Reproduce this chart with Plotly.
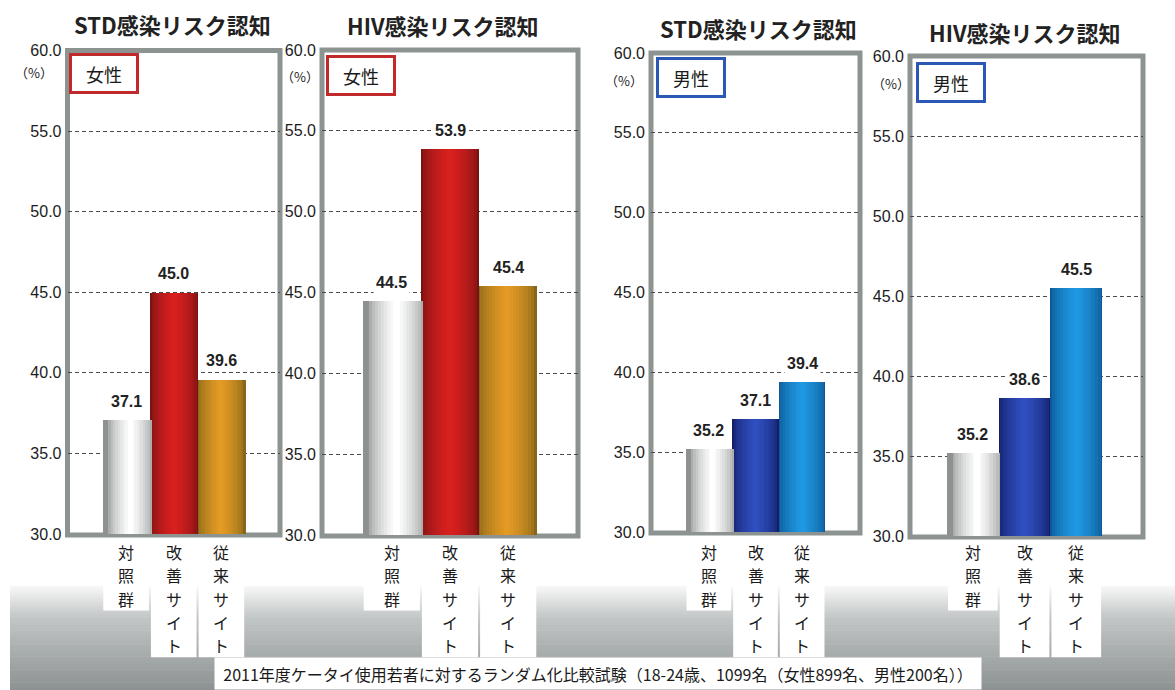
import plotly.graph_objects as go

# --- data -----------------------------------------------------------------
categories = ["対照群", "改善サイト", "従来サイト"]
panel_titles = ["STD感染リスク認知", "HIV感染リスク認知", "STD感染リスク認知", "HIV感染リスク認知"]
panel_groups = ["女性", "女性", "男性", "男性"]
female_std = [37.1, 45.0, 39.6]
female_hiv = [44.5, 53.9, 45.4]
male_std = [35.2, 37.1, 39.4]
male_hiv = [35.2, 38.6, 45.5]
y_ticks = [30, 35, 40, 45, 50, 55, 60]
footnote = "2011年度ケータイ使用若者に対するランダム化比較試験（18-24歳、1099名（女性899名、男性200名））"

panel_values = [female_std, female_hiv, male_std, male_hiv]

# --- layout helpers ---------------------------------------------------------
W, H = 1175, 690


def fx(px):
    return px / W


def fy(py):
    return 1 - py / H


# plot-area geometry (pixels): left, right, top(60), bottom(30), x-range
panels = [
    dict(l=67.5, r=280, t=50.5, b=534, xr=[-1.23, 3.23]),
    dict(l=322, r=578, t=50, b=535, xr=[-1.2, 3.2]),
    dict(l=651, r=860, t=53, b=532, xr=[-1.24, 3.24]),
    dict(l=910, r=1143, t=56, b=536, xr=[-1.215, 3.29]),
]
title_pos = [(172, 24), (443, 25), (758, 28), (1025, 32)]
pct_pos = [(34, 73), (300, 77), (624, 81), (891, 83)]
group_box = [(69, 53), (326, 55), (656, 57), (916, 62)]
group_colors = {"女性": "#c02a2a", "男性": "#2a58b4"}

# vertical category label layout (pixels)
LABEL_FIRST = 552      # centre of the first character
LABEL_PITCH = 23.3     # distance between stacked characters
LABEL_SIZE = 16

# shading ramps per bar: (edge colour, highlight colour, highlight centre offset)
female_ramps = [("#8e9191", "#ffffff", 0.08), ("#7a1212", "#d8201f", 0.0), ("#86661a", "#e39a24", -0.02)]
male_ramps = [("#8e9191", "#ffffff", 0.08), ("#131e66", "#2f4fc0", 0.0), ("#0d5896", "#1e98e0", 0.0)]
panel_ramps = [female_ramps, female_ramps, male_ramps, male_ramps]


def hex2rgb(h):
    h = h.lstrip("#")
    return tuple(int(h[i:i + 2], 16) for i in (0, 2, 4))


def mix(a, b, t):
    ra, rb = hex2rgb(a), hex2rgb(b)
    return "rgb(%d,%d,%d)" % tuple(round(ra[i] + (rb[i] - ra[i]) * t) for i in range(3))


fig = go.Figure()
annotations = []
shapes = []
label_boxes = []
N_LAYERS = 10

for i, (vals, geo) in enumerate(zip(panel_values, panels)):
    xa = "x" if i == 0 else f"x{i + 1}"
    ya = "y" if i == 0 else f"y{i + 1}"
    ramps = panel_ramps[i]
    # cylinder-style shading: nested bars from the same values
    for k in range(N_LAYERS):
        f = k / (N_LAYERS - 1)
        if k == 0:
            half = [0.5] * 3
            offs = [-0.5] * 3
        else:
            half = [0.47 * (1 - (k - 1) / (N_LAYERS - 1)) for _ in ramps]
            offs = [r[2] - h for r, h in zip(ramps, half)]
        t = (f ** 0.6)
        colors = [mix(r[0], r[1], t) for r in ramps]
        fig.add_trace(go.Bar(
            x=categories, y=vals, base=0, xaxis=xa, yaxis=ya,
            width=[2 * h for h in half], offset=offs,
            marker=dict(color=colors, line=dict(width=0)),
            showlegend=False, hoverinfo="skip",
        ))

    fig.layout[f"xaxis{'' if i == 0 else i + 1}"] = dict(
        domain=[fx(geo["l"]), fx(geo["r"])], range=geo["xr"], anchor=ya,
        showticklabels=False, showgrid=False, zeroline=False, showline=False,
        type="category", fixedrange=True, automargin=False,
    )
    fig.layout[f"yaxis{'' if i == 0 else i + 1}"] = dict(
        domain=[fy(geo["b"]), fy(geo["t"])], range=[30, 60], anchor=xa,
        tickvals=y_ticks, ticktext=[f"{v:.1f}" for v in y_ticks],
        tickfont=dict(family="Liberation Sans, Arial", size=16, color="#1c1c1c"),
        showgrid=True, gridcolor="#4a4a4a", gridwidth=1, griddash="4px,3px",
        zeroline=False, showline=False, ticks="", ticklabelstandoff=5,
        fixedrange=True, automargin=False,
    )
    # grey frame
    shapes.append(dict(type="rect", xref="paper", yref="paper",
                       x0=fx(geo["l"]), x1=fx(geo["r"]), y0=fy(geo["b"] + 1), y1=fy(geo["t"]),
                       line=dict(color="#8c9390", width=5), layer="between"))

    # value labels
    for c, v in zip(categories, vals):
        annotations.append(dict(
            x=c, y=v, xref=xa, yref=ya, text=f"{v:.1f}", showarrow=False,
            yanchor="bottom", yshift=7, bgcolor="white", borderpad=2,
            font=dict(family="Liberation Sans, Arial", size=16, color="#222", weight="bold"),
        ))

    # vertical category labels: one character per line on a white card
    bar_px = (geo["r"] - geo["l"]) / (geo["xr"][1] - geo["xr"][0])
    for j, c in enumerate(categories):
        cx = geo["l"] + (j - geo["xr"][0]) * bar_px
        last = LABEL_FIRST + LABEL_PITCH * (len(c) - 1)
        label_boxes.append(dict(type="rect", xref="paper", yref="paper",
                                x0=fx(cx - bar_px / 2 + 1), x1=fx(cx + bar_px / 2 - 1),
                                y0=fy(last + 12), y1=fy(geo["b"] + 4),
                                line=dict(width=0), fillcolor="white", layer="above"))
        for k, ch in enumerate(c):
            annotations.append(dict(
                x=c, y=fy(LABEL_FIRST + LABEL_PITCH * k), xref=xa, yref="paper",
                yanchor="middle", text=ch, showarrow=False,
                font=dict(family="Noto Sans CJK JP", size=LABEL_SIZE, color="#1a1a1a"),
            ))

    # panel title
    tx, ty = title_pos[i]
    annotations.append(dict(
        x=fx(tx), y=fy(ty), xref="paper", yref="paper", xanchor="center", yanchor="middle",
        text=panel_titles[i], showarrow=False,
        font=dict(family="Noto Sans CJK JP", size=22, color="#222", weight="bold"),
    ))
    # unit label
    px_, py_ = pct_pos[i]
    annotations.append(dict(
        x=fx(px_), y=fy(py_), xref="paper", yref="paper", xanchor="center", yanchor="middle",
        text="（%）", showarrow=False,
        font=dict(family="Noto Sans CJK JP", size=13, color="#222"),
    ))
    # group tag
    gx, gy = group_box[i]
    annotations.append(dict(
        x=fx(gx), y=fy(gy), xref="paper", yref="paper", xanchor="left", yanchor="top",
        text=panel_groups[i], showarrow=False, bgcolor="white",
        bordercolor=group_colors[panel_groups[i]], borderwidth=3, borderpad=1,
        width=62, height=33,
        font=dict(family="Noto Sans CJK JP", size=18, color="#1a1a1a"),
    ))

# grey gradient band along the bottom
n_band = 40
top_px, bot_px = 586, 690
for k in range(n_band):
    y0 = top_px + (bot_px - top_px) * k / n_band
    y1 = top_px + (bot_px - top_px) * (k + 1) / n_band
    t = k / (n_band - 1)
    if t < 0.3:
        col = mix("#f6f6f6", "#c2c6c6", t / 0.3)
    else:
        col = mix("#c2c6c6", "#8d9292", (t - 0.3) / 0.7)
    shapes.append(dict(type="rect", xref="paper", yref="paper", x0=fx(10), x1=1,
                       y0=fy(y1 + 0.5), y1=fy(y0), line=dict(width=0), fillcolor=col, layer="below"))
shapes.extend(label_boxes)

annotations.append(dict(
    x=fx(598), y=fy(673), xref="paper", yref="paper", xanchor="center", yanchor="middle",
    text=footnote, showarrow=False,
    bgcolor="white", width=766, height=31, borderpad=0,
    font=dict(family="Noto Sans CJK JP", size=16, color="#1a1a1a"),
))

fig.update_layout(
    template="none",
    width=W, height=H, margin=dict(l=0, r=0, t=0, b=0, pad=0), autosize=False,
    paper_bgcolor="white", plot_bgcolor="rgba(0,0,0,0)",
    barmode="overlay", bargap=0, showlegend=False,
    annotations=annotations, shapes=shapes,
)

fig.write_html(
    "out.html",
    config={"displayModeBar": False},
    post_script="document.body.style.margin='0';document.body.style.overflow='hidden';",
)
